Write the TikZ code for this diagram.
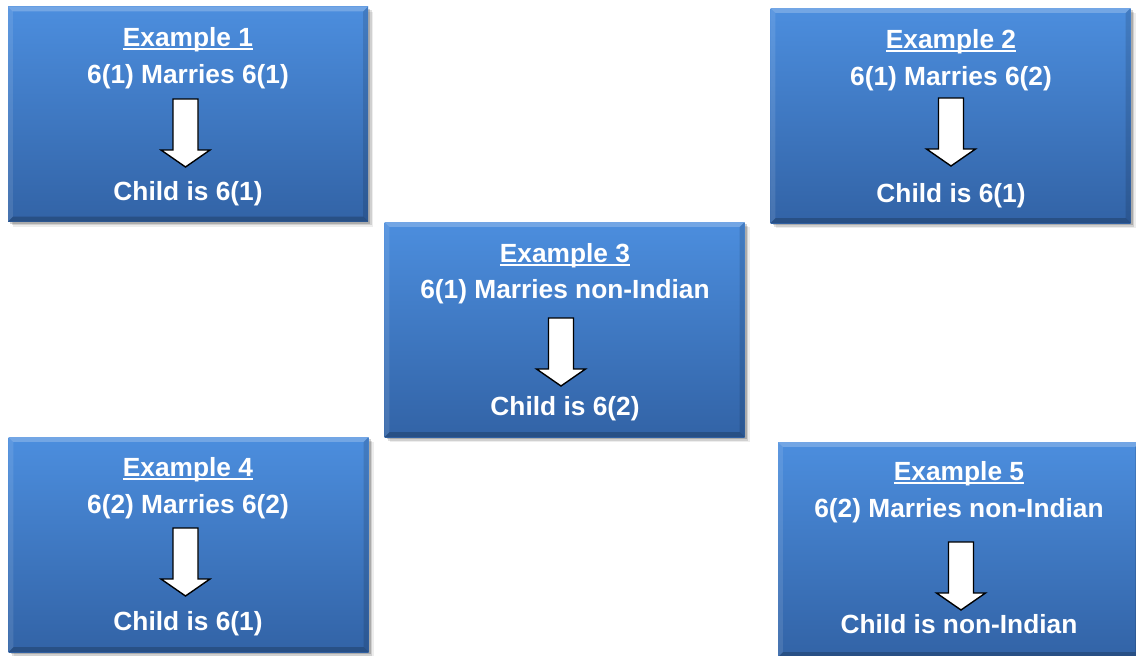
\documentclass[tikz,border=0pt]{standalone}
\usepackage{fontspec}
\setmainfont{Liberation Sans}
\usetikzlibrary{shadows}
\definecolor{boxtop}{RGB}{76,142,222}
\definecolor{boxbot}{RGB}{50,99,166}
\newcommand\myul[1]{\setbox0=\hbox{#1}\rlap{\rule[-4pt]{\wd0}{2pt}}\box0}
\newcommand\bevel[1]{%
  \fill[white,opacity=0.22] (#1.north west) -- (#1.north east) -- ([shift={(-5,5)}]#1.north east) -- ([shift={(5,5)}]#1.north west) -- cycle;
  \fill[white,opacity=0.10] (#1.north west) -- ([shift={(5,5)}]#1.north west) -- ([shift={(5,-5)}]#1.south west) -- (#1.south west) -- cycle;
  \fill[black,opacity=0.12] (#1.north east) -- ([shift={(-5,5)}]#1.north east) -- ([shift={(-5,-5)}]#1.south east) -- (#1.south east) -- cycle;
  \fill[black,opacity=0.20] (#1.south west) -- ([shift={(5,-5)}]#1.south west) -- ([shift={(-5,-5)}]#1.south east) -- (#1.south east) -- cycle;
}
\tikzset{
  exbox/.style={rectangle, inner sep=0pt, top color=boxtop, bottom color=boxbot,
    minimum width=360pt, minimum height=215pt,
    drop shadow={shadow xshift=2pt, shadow yshift=-2pt, opacity=0.18, fill=black},
    drop shadow={shadow xshift=3.5pt, shadow yshift=-3.5pt, opacity=0.12, fill=black},
    drop shadow={shadow xshift=5pt, shadow yshift=-5pt, opacity=0.07, fill=black}},
  txt/.style={anchor=base, text=white, inner sep=0pt, font=\bfseries\fontsize{26.3}{30}\selectfont},
  downarr/.pic={\draw[black, line width=1.4pt, fill=white, line join=miter]
    (-12.5,0) -- (12.5,0) -- (12.5,51) -- (24.5,51) -- (0,68) -- (-24.5,51) -- (-12.5,51) -- cycle;}
}
\begin{document}
\begin{tikzpicture}[x=1pt,y=-1pt]
\useasboundingbox (0,0) rectangle (1136,656);
\clip (0,0) rectangle (1136,656);
% boxes
\node[exbox] (b1) at (188,114) {};
\node[exbox] (b2) at (950.5,115.5) {};
\node[exbox] (b3) at (564.5,329.5) {};
\node[exbox] (b4) at (188.5,544.5) {};
\node[exbox, minimum width=362pt] (b5) at (959,549.5) {};
\bevel{b1}\bevel{b2}\bevel{b3}\bevel{b4}\bevel{b5}
% box 1
\node[txt] (t1a) at (188,46) {\myul{Example 1}};
\node[txt] (t1b) at (188,83) {6(1) Marries 6(1)};
\node[txt] (t1c) at (188,200) {Child is 6(1)};
\pic at (185.5,99) {downarr};
% box 2
\node[txt] (t2a) at (951,48) {\myul{Example 2}};
\node[txt] (t2b) at (951,85) {6(1) Marries 6(2)};
\node[txt] (t2c) at (951,202) {Child is 6(1)};
\pic at (951,98) {downarr};
% box 3
\node[txt] (t3a) at (565,262) {\myul{Example 3}};
\node[txt] (t3b) at (565,298) {6(1) Marries non-Indian};
\node[txt] (t3c) at (565,415) {Child is 6(2)};
\pic at (561,318) {downarr};
% box 4
\node[txt] (t4a) at (188,476) {\myul{Example 4}};
\node[txt] (t4b) at (188,513) {6(2) Marries 6(2)};
\node[txt] (t4c) at (188,630) {Child is 6(1)};
\pic at (185.5,528) {downarr};
% box 5
\node[txt] (t5a) at (959,480) {\myul{Example 5}};
\node[txt] (t5b) at (959,517) {6(2) Marries non-Indian};
\node[txt] (t5c) at (959,633) {Child is non-Indian};
\pic at (961,542) {downarr};
\end{tikzpicture}
\end{document}
